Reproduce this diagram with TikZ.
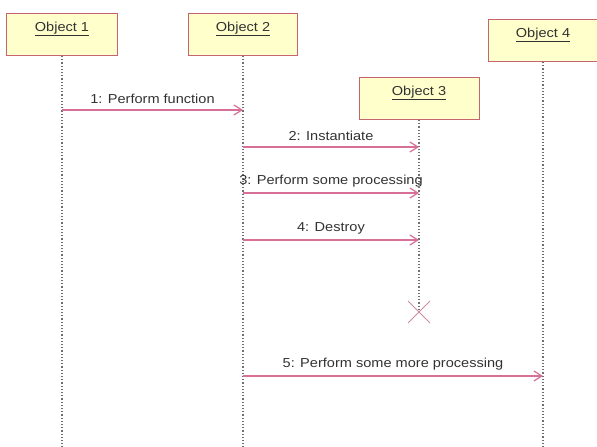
\documentclass[tikz,border=0pt]{standalone}
\usepackage{fontspec}
\setmainfont{Liberation Sans}[FakeStretch=1.12]
\usepackage{tikz}
\usetikzlibrary{arrows.meta,positioning}

\definecolor{objfill}{RGB}{255,255,204}
\definecolor{objline}{RGB}{196,100,112}
\definecolor{msgline}{RGB}{214,112,150}
\definecolor{cruz}{RGB}{204,140,160}
\definecolor{lifeline}{RGB}{110,110,110}
\definecolor{txt}{RGB}{50,50,50}

\begin{document}
\begin{tikzpicture}[
    x=1pt, y=-1pt,
    font=\fontsize{13}{15}\selectfont, text=txt,
    objeto/.style={draw=objline, fill=objfill, line width=1pt,
                   minimum width=#1, inner ysep=6pt,
                   text height=12pt, text depth=18pt, anchor=north},
    vida/.style={draw=lifeline, dotted, line width=1.2pt},
    mensaje/.style={-{Straight Barb[length=8pt,width=10pt]}, draw=msgline, line width=1.2pt},
    etiqueta/.style={above=2pt, midway}
  ]
    \useasboundingbox (0,0) rectangle (597,447);
    % objetos
    \node[objeto=111] (obj1) at (62,13) {\underline{Object 1}};
    \node[objeto=109] (obj2) at (243,13) {\underline{Object 2}};
    \node[objeto=120] (obj3) at (419,77) {\underline{Object 3}};
    \node[objeto=109] (obj4) at (543,19) {\underline{Object 4}};
    % lineas de vida
    \coordinate (fin1) at (obj1.south |- 0,447);
    \coordinate (fin2) at (obj2.south |- 0,447);
    \coordinate (fin3) at (obj3.south |- 0,312);
    \coordinate (fin4) at (obj4.south |- 0,447);
    \draw[vida] (obj1.south) -- (fin1);
    \draw[vida] (obj2.south) -- (fin2);
    \draw[vida] (obj3.south) -- (fin3);
    \draw[vida] (obj4.south) -- (fin4);
    % mensajes
    \coordinate (m1a) at (obj1.south |- 0,110);
    \coordinate (m1b) at (obj2.south |- 0,110);
    \coordinate (m2a) at (obj2.south |- 0,147);
    \coordinate (m2b) at (obj3.south |- 0,147);
    \coordinate (m3a) at (obj2.south |- 0,193);
    \coordinate (m3b) at (obj3.south |- 0,193);
    \coordinate (m4a) at (obj2.south |- 0,240);
    \coordinate (m4b) at (obj3.south |- 0,240);
    \coordinate (m5a) at (obj2.south |- 0,376);
    \coordinate (m5b) at (obj4.south |- 0,376);
    \draw[mensaje] (m1a) -- node[etiqueta]{1: Perform function} (m1b);
    \draw[mensaje] (m2a) -- node[etiqueta]{2: Instantiate} (m2b);
    \draw[mensaje] (m3a) -- node[etiqueta]{3: Perform some processing} (m3b);
    \draw[mensaje] (m4a) -- node[etiqueta]{4: Destroy} (m4b);
    \draw[mensaje] (m5a) -- node[etiqueta]{5: Perform some more processing} (m5b);
    % destruccion
    \draw[cruz, line width=1pt] (fin3) ++(-11,-11) -- ++(22,22)
      (fin3) ++(-11,11) -- ++(22,-22);
  \end{tikzpicture}
\end{document}
